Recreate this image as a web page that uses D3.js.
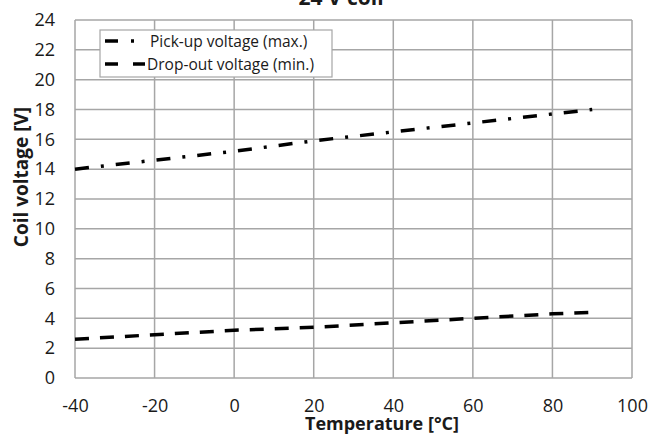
<!DOCTYPE html>
<html>
<head>
<meta charset="utf-8">
<script src="https://cdn.jsdelivr.net/npm/d3@7"></script>
<style>
  body { margin: 0; background: #fff; }
  svg { display: block; }
  .tick text { font-family: "Open Sans", sans-serif; font-size: 18px; fill: #1a1a1a; }
  .axistitle { font-family: "Open Sans", sans-serif; font-weight: bold; fill: #1a1a1a; }
  .legendtext { font-family: "Open Sans", sans-serif; font-size: 15.5px; fill: #1a1a1a; }
</style>
</head>
<body>
<div id="chart"></div>
<script>
// temperatures [°C]
var temps = [-40, -20, 0, 20, 40, 60, 80, 90];
// coil voltage values [V]
var pickup = [14.0, 14.6, 15.2, 15.9, 16.5, 17.1, 17.7, 18.0];
var dropout = [2.6, 2.9, 3.2, 3.4, 3.7, 4.0, 4.3, 4.4];

var xticks = [-40, -20, 0, 20, 40, 60, 80, 100];
var yticks = [0, 2, 4, 6, 8, 10, 12, 14, 16, 18, 20, 22, 24];

var seriesNames = ["Pick-up voltage (max.)", "Drop-out voltage (min.)"];
var dashes = ["14,12,3,12", "14,11"];

var width = 651, height = 434;
var plotLeft = 75, plotRight = 632, plotTop = 20, plotBottom = 378;

var svg = d3.select("#chart").append("svg")
    .attr("width", width)
    .attr("height", height);

var x = d3.scaleLinear().domain([-40, 100]).range([plotLeft, plotRight]);
var y = d3.scaleLinear().domain([0, 24]).range([plotBottom, plotTop]);

// plain hyphen minus like the original
var fmt = function(d) { return String(d); };

// grid lines
svg.append("g")
    .selectAll("line")
    .data(xticks)
    .enter().append("line")
    .attr("x1", function(d) { return x(d); })
    .attr("x2", function(d) { return x(d); })
    .attr("y1", plotTop)
    .attr("y2", plotBottom)
    .attr("stroke", "#a6a6a6")
    .attr("stroke-width", 1.5);

svg.append("g")
    .selectAll("line")
    .data(yticks)
    .enter().append("line")
    .attr("x1", plotLeft)
    .attr("x2", plotRight)
    .attr("y1", function(d) { return y(d); })
    .attr("y2", function(d) { return y(d); })
    .attr("stroke", "#a6a6a6")
    .attr("stroke-width", 1.5);

// axes, labels only
var xaxis = svg.append("g")
    .attr("transform", "translate(0," + plotBottom + ")")
    .call(d3.axisBottom(x).tickValues(xticks).tickFormat(fmt).tickSize(0).tickPadding(0));
xaxis.select(".domain").remove();
xaxis.selectAll("text").attr("y", 34).attr("dy", 0);

var yaxis = svg.append("g")
    .attr("transform", "translate(" + plotLeft + ",0)")
    .call(d3.axisLeft(y).tickValues(yticks).tickFormat(fmt).tickSize(0).tickPadding(20));
yaxis.select(".domain").remove();

// series lines
var line = d3.line()
    .x(function(d) { return x(d[0]); })
    .y(function(d) { return y(d[1]); });

[pickup, dropout].forEach(function(vals, i) {
    svg.append("path")
        .datum(d3.zip(temps, vals))
        .attr("d", line)
        .attr("fill", "none")
        .attr("stroke", "#000")
        .attr("stroke-width", 3.5)
        .attr("stroke-dasharray", dashes[i]);
});

// legend
var leg = svg.append("g");
leg.append("rect")
    .attr("x", 100)
    .attr("y", 30)
    .attr("width", 232)
    .attr("height", 47)
    .attr("fill", "#fff")
    .attr("stroke", "#a6a6a6")
    .attr("stroke-width", 1.2);

seriesNames.forEach(function(name, i) {
    var ly = 41 + i * 23;
    leg.append("line")
        .attr("x1", 105)
        .attr("x2", i == 0 ? 134 : 145)
        .attr("y1", ly)
        .attr("y2", ly)
        .attr("stroke", "#000")
        .attr("stroke-width", 3.5)
        .attr("stroke-dasharray", i == 0 ? "13,13,3,12" : "13,15");
    leg.append("text")
        .attr("class", "legendtext")
        .attr("x", i == 0 ? 150 : 147)
        .attr("y", ly + 6)
        .text(name);
});

// titles
svg.append("text")
    .attr("class", "axistitle")
    .attr("x", 341)
    .attr("y", 5)
    .attr("text-anchor", "middle")
    .style("font-size", "21px")
    .text("24 V coil");

svg.append("text")
    .attr("class", "axistitle")
    .attr("x", 382)
    .attr("y", 430)
    .attr("text-anchor", "middle")
    .style("font-size", "18px")
    .text("Temperature [°C]");

svg.append("text")
    .attr("class", "axistitle")
    .attr("transform", "translate(28,177) rotate(-90)")
    .attr("text-anchor", "middle")
    .style("font-size", "19px")
    .text("Coil voltage [V]");
</script>
</body>
</html>
